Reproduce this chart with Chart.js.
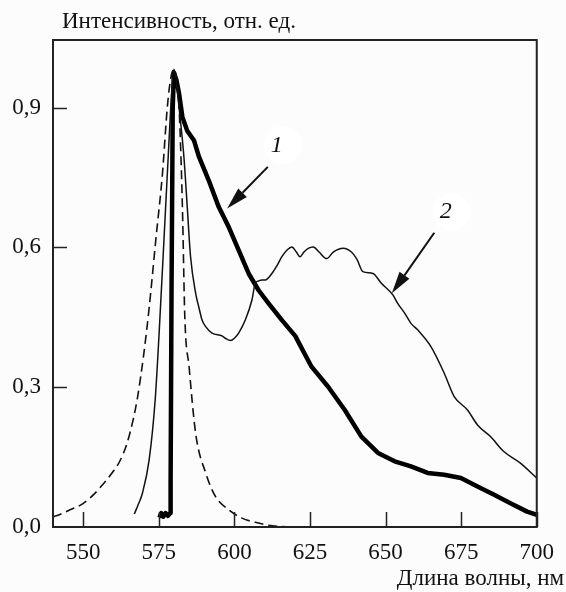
<!DOCTYPE html>
<html lang="ru">

<head>
  <meta charset="UTF-8">
  <title>Спектры</title>
  <script src="https://cdn.jsdelivr.net/npm/chart.js"></script>
  <style>
    body {
      margin: 0;
      background: #fcfcfc;
    }

    #grafico {
      display: block;
    }
  </style>
</head>

<body>
  <canvas id="grafico" width="566" height="592"></canvas>
</body>

</html>

<script>
  // ticks
  const xTicks = [550, 575, 600, 625, 650, 675, 700];
  const yTicks = [0, 0.3, 0.6, 0.9];

  // dashed curve
  const dashX = [540, 541.1, 545, 549.9, 553.5, 557.6, 560, 562, 564.5, 566.5, 568, 570, 571.8, 574, 576.2, 577.8, 579, 580, 581, 581.7, 582.8, 583.6, 585, 587.2, 590.5, 593.7, 598.1, 602.5, 606.9, 611, 615.6, 620, 625];
  const dashY = [0.022, 0.024, 0.035, 0.05, 0.07, 0.1, 0.12, 0.14, 0.18, 0.23, 0.28, 0.37, 0.47, 0.616, 0.758, 0.9, 0.965, 0.982, 0.955, 0.9, 0.687, 0.45, 0.344, 0.2, 0.116, 0.066, 0.037, 0.019, 0.01, 0.004, 0.001, 0, 0];

  // curve 1 (thick, noisy)
  const curve1X = [575.2, 575.8, 576.5, 577.2, 578, 578.8, 578.9, 579.2, 579.6, 580, 580.8, 581.7, 582.8, 584.4, 586.6, 588.3, 591.5, 594.8, 598.1, 601.4, 604.7, 608, 611.3, 615.7, 620.1, 625.5, 631, 636.5, 642, 647.5, 653, 658.4, 663.9, 669.4, 674.9, 680.4, 685.9, 691.3, 696.8, 700];
  const curve1Y = [0.02, 0.03, 0.022, 0.03, 0.024, 0.03, 0.1, 0.5, 0.9, 0.975, 0.96, 0.93, 0.88, 0.85, 0.83, 0.794, 0.744, 0.687, 0.644, 0.594, 0.544, 0.508, 0.48, 0.444, 0.41, 0.344, 0.301, 0.251, 0.194, 0.159, 0.141, 0.13, 0.116, 0.112, 0.105, 0.087, 0.069, 0.051, 0.033, 0.026];

  // curve 2 (thin)
  const curve2X = [566.9, 568, 569.6, 571.8, 573.8, 575.1, 576.7, 578.1, 579.3, 580, 580.8, 581.7, 583.3, 584.4, 585.5, 587.2, 588.3, 589.3, 590.5, 592.6, 595.9, 597, 598.7, 600, 601.4, 603.6, 605.8, 606.9, 608, 609.1, 610.2, 612.4, 614, 615.7, 617.5, 619, 620.5, 621.7, 623, 624.4, 626.1, 628, 630.5, 632.7, 636, 638.7, 640.5, 642.5, 645.8, 648.6, 652.4, 654, 656.3, 658.4, 660.6, 665, 669.4, 672.7, 677.1, 680.4, 684.7, 689.1, 694.6, 700];
  const curve2Y = [0.028, 0.045, 0.073, 0.144, 0.273, 0.416, 0.616, 0.794, 0.937, 0.982, 0.955, 0.9, 0.794, 0.687, 0.58, 0.501, 0.47, 0.444, 0.43, 0.416, 0.41, 0.405, 0.4, 0.405, 0.416, 0.444, 0.487, 0.523, 0.528, 0.53, 0.53, 0.544, 0.56, 0.58, 0.595, 0.601, 0.59, 0.58, 0.59, 0.598, 0.601, 0.59, 0.576, 0.59, 0.598, 0.59, 0.575, 0.548, 0.544, 0.523, 0.498, 0.48, 0.459, 0.437, 0.423, 0.387, 0.33, 0.28, 0.251, 0.219, 0.194, 0.162, 0.137, 0.105];

  // annotations (data coordinates)
  const labelNames = ['1', '2'];
  const labelPos = [[614.0, 0.819], [669.9, 0.676]];
  const arrowFrom = [[611.05, 0.7727], [666.1, 0.6313]];
  const arrowTo = [[597.6, 0.6835], [652.07, 0.5014]];

  const fonte = 'Liberation Serif, Times New Roman, serif';

  function pontos(xs, ys) {
    let lista = [];
    for (let i = 0; i < xs.length; i++) {
      lista.push({ x: xs[i], y: ys[i] });
    }
    return lista;
  }

  // frame, inner ticks, titles, arrows
  const extras = {
    id: 'extras',
    beforeDraw(chart) {
      const ctx = chart.ctx;
      ctx.save();
      ctx.fillStyle = '#fcfcfc';
      ctx.fillRect(0, 0, chart.width, chart.height);
      ctx.restore();
    },
    afterDraw(chart) {
      const ctx = chart.ctx;
      const area = chart.chartArea;
      const sx = chart.scales.x;
      const sy = chart.scales.y;
      ctx.save();

      ctx.strokeStyle = '#222';
      ctx.lineWidth = 2;
      ctx.strokeRect(area.left, area.top, area.right - area.left, area.bottom - area.top);

      ctx.lineWidth = 1.5;
      ctx.beginPath();
      xTicks.forEach(function (v) {
        const px = Math.round(sx.getPixelForValue(v)) + 0.5;
        ctx.moveTo(px, area.bottom);
        ctx.lineTo(px, area.bottom - 15);
      });
      yTicks.forEach(function (v) {
        if (v == 0) return;
        const py = Math.round(sy.getPixelForValue(v)) + 0.5;
        ctx.moveTo(area.left, py);
        ctx.lineTo(area.left + 14, py);
      });
      ctx.stroke();

      // axis titles
      ctx.fillStyle = '#111';
      ctx.font = '23px ' + fonte;
      ctx.textBaseline = 'alphabetic';
      ctx.textAlign = 'left';
      ctx.fillText('Интенсивность, отн. ед.', 62, 28);
      ctx.textAlign = 'right';
      ctx.fillText('Длина волны, нм', 564, 585);

      // curve labels
      for (let i = 0; i < labelNames.length; i++) {
        const lx = sx.getPixelForValue(labelPos[i][0]);
        const ly = sy.getPixelForValue(labelPos[i][1]);
        ctx.fillStyle = '#ffffff';
        ctx.beginPath();
        ctx.arc(lx + 6, ly, 19, 0, Math.PI * 2);
        ctx.fill();
        ctx.fillStyle = '#111';
        ctx.font = 'italic 24px ' + fonte;
        ctx.textAlign = 'center';
        ctx.textBaseline = 'middle';
        ctx.fillText(labelNames[i], lx, ly);

        const x0 = sx.getPixelForValue(arrowFrom[i][0]);
        const y0 = sy.getPixelForValue(arrowFrom[i][1]);
        const x1 = sx.getPixelForValue(arrowTo[i][0]);
        const y1 = sy.getPixelForValue(arrowTo[i][1]);
        const ang = Math.atan2(y1 - y0, x1 - x0);
        const len = 22, w = 6;
        const bx = x1 - len * Math.cos(ang);
        const by = y1 - len * Math.sin(ang);
        ctx.strokeStyle = '#111';
        ctx.lineWidth = 2;
        ctx.beginPath();
        ctx.moveTo(x0, y0);
        ctx.lineTo(bx, by);
        ctx.stroke();
        ctx.beginPath();
        ctx.moveTo(x1, y1);
        ctx.lineTo(bx + w * Math.sin(ang), by - w * Math.cos(ang));
        ctx.lineTo(bx - w * Math.sin(ang), by + w * Math.cos(ang));
        ctx.closePath();
        ctx.fill();
      }
      ctx.restore();
    }
  };

  const dados = {
    datasets: [
      {
        label: 'dashed',
        data: pontos(dashX, dashY),
        borderColor: '#111',
        borderWidth: 1.6,
        borderDash: [9, 5],
        cubicInterpolationMode: 'monotone'
      },
      {
        label: '2',
        data: pontos(curve2X, curve2Y),
        borderColor: '#111',
        borderWidth: 1.5,
        cubicInterpolationMode: 'monotone'
      },
      {
        label: '1',
        data: pontos(curve1X, curve1Y),
        borderColor: '#000',
        borderWidth: 4.5,
        borderJoinStyle: 'round',
        tension: 0
      }
    ]
  };

  const config = {
    type: 'line',
    data: dados,
    options: {
      responsive: false,
      animation: false,
      devicePixelRatio: 1,
      layout: {
        padding: { top: 40, right: 27, left: 0, bottom: 0 }
      },
      elements: {
        point: { radius: 0 }
      },
      plugins: {
        legend: { display: false },
        tooltip: { enabled: false }
      },
      scales: {
        x: {
          type: 'linear',
          min: 540,
          max: 700,
          grid: { drawOnChartArea: false, drawTicks: false },
          border: { display: false },
          afterBuildTicks: function (axis) {
            axis.ticks = xTicks.map(v => ({ value: v }));
          },
          afterFit: function (axis) {
            axis.height = 65;
          },
          ticks: {
            color: '#111',
            font: { family: fonte, size: 23 },
            padding: 12,
            maxRotation: 0,
            autoSkip: false
          }
        },
        y: {
          type: 'linear',
          min: 0,
          max: 1.045,
          grid: { drawOnChartArea: false, drawTicks: false },
          border: { display: false },
          afterBuildTicks: function (axis) {
            axis.ticks = yTicks.map(v => ({ value: v }));
          },
          afterFit: function (axis) {
            axis.width = 53;
          },
          ticks: {
            color: '#111',
            font: { family: fonte, size: 23 },
            padding: 12,
            callback: function (valor) {
              return Number(valor).toFixed(1).replace('.', ',');
            }
          }
        }
      }
    },
    plugins: [extras]
  };

  let myChart = new Chart(document.getElementById('grafico'), config);
</script>
